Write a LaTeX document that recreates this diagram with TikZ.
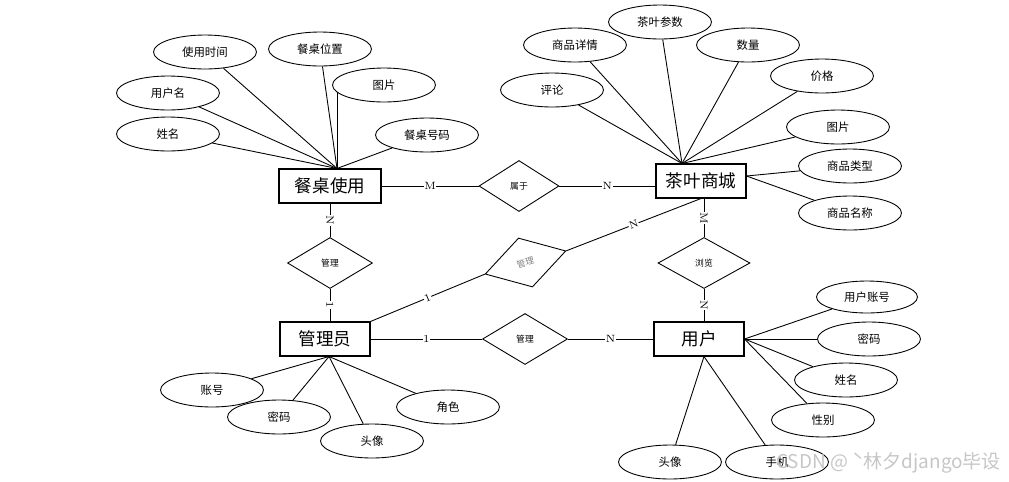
\documentclass[tikz,border=0pt]{standalone}
\usepackage{fontspec}
\newfontfamily\cjk{Noto Sans CJK SC}
\usepackage{tikz}
\usetikzlibrary{shapes.geometric, positioning, calc}

\tikzset{
  entity/.style={draw, line width=0.6pt, minimum width=1.8cm, minimum height=0.68cm, inner sep=0pt, font=\cjk\fontsize{10}{10}\selectfont},
  attr/.style={draw, ellipse, line width=0.5pt, minimum width=2.06cm, minimum height=0.68cm, inner sep=0pt, font=\cjk\fontsize{6.5}{6.5}\selectfont},
  rel/.style={draw, diamond, line width=0.5pt, minimum width=1.7cm, minimum height=1.02cm, inner sep=0pt, font=\cjk\fontsize{5}{5}\selectfont},
  card/.style={fill=white, inner sep=0.3pt, font=\fontsize{6}{6}\selectfont},
  link/.style={line width=0.5pt},
}

\begin{document}
\begin{tikzpicture}[x=0.02cm, y=-0.02cm]
    \useasboundingbox (0,0) rectangle (1009,481);

    % Entities
    \node[entity, minimum width=2.04cm] (table) at (330,186) {餐桌使用};
    \node[entity] (tea) at (701,181) {茶叶商城};
    \node[entity] (admin) at (325,339) {管理员};
    \node[entity] (user) at (699,339) {用户};

    % Relations
    \node[rel, minimum width=1.6cm] (belong) at (519,186) {属于};
    \node[rel] (mgrTable) at (330,263) {管理};
    \node[rel, rotate=16, text=gray, minimum width=1.68cm] (mgrTea) at (525.5,262.5) {管理};
    \node[rel, minimum width=1.84cm] (browse) at (704,263) {浏览};
    \node[rel] (mgrUser) at (525,339) {管理};

    % Table attributes
    \node[attr] (tUseTime) at (205,52) {使用时间};
    \node[attr] (tSeat) at (320,49) {餐桌位置};
    \node[attr] (tPic) at (384,85) {图片};
    \node[attr] (tUser) at (168,93) {用户名};
    \node[attr] (tName) at (168,134) {姓名};
    \node[attr] (tNo) at (427,135) {餐桌号码};

    % Tea shop attributes
    \node[attr] (gParam) at (660,22) {茶叶参数};
    \node[attr] (gDetail) at (575,45) {商品详情};
    \node[attr] (gCount) at (748,45) {数量};
    \node[attr] (gComment) at (552,90) {评论};
    \node[attr] (gPrice) at (822,76) {价格};
    \node[attr] (gPic) at (838,127) {图片};
    \node[attr] (gType) at (850,166) {商品类型};
    \node[attr] (gName) at (850,213) {商品名称};

    % Admin attributes
    \node[attr] (aAccount) at (212,390) {账号};
    \node[attr] (aPwd) at (279,417) {密码};
    \node[attr] (aAvatar) at (372,441) {头像};
    \node[attr] (aRole) at (448,407) {角色};

    % User attributes
    \node[attr, minimum width=2.02cm, minimum height=0.64cm] (uAccount) at (867,297) {用户账号};
    \node[attr] (uPwd) at (869,339) {密码};
    \node[attr] (uName) at (846,380) {姓名};
    \node[attr] (uSex) at (823,420) {性别};
    \node[attr] (uAvatar) at (670,462) {头像};
    \node[attr] (uPhone) at (777,462) {手机};

    % Attribute links
    \coordinate (tableTop) at ([xshift=0.14cm]table.north);
    \foreach \a in {tUseTime,tSeat,tUser,tName,tNo}
        \draw[link] (\a) -- (tableTop);
    \draw[link] (tPic.189) -- (tPic.189 |- table.north);

    \coordinate (teaTop) at ([xshift=-0.38cm]tea.north);
    \foreach \a in {gParam,gDetail,gCount,gComment,gPrice,gPic}
        \draw[link] (\a) -- (teaTop);
    \coordinate (teaRight) at ([yshift=0.1cm]tea.east);
    \draw[link] (gType) -- (teaRight);
    \draw[link] (gName) -- (teaRight);

    \coordinate (adminBot) at ([xshift=0.08cm]admin.south);
    \foreach \a in {aAccount,aPwd,aAvatar,aRole}
        \draw[link] (\a) -- (adminBot);

    \foreach \a in {uAccount,uPwd,uName,uSex}
        \draw[link] (\a) -- (user.east);
    \coordinate (userBot) at ([xshift=0.1cm]user.south);
    \draw[link] (uAvatar) -- (userBot);
    \draw[link] (uPhone) -- (userBot);

    % Relation links
    \draw[link] (table) -- node[card] {M} (belong);
    \draw[link] (belong.east) -- node[card] {N} (belong.east -| tea.west);
    \draw[link] (table) -- node[card, sloped] {N} (mgrTable);
    \draw[link] (mgrTable.south) -- node[card, sloped] {1} (mgrTable.south |- admin.north);
    \draw[link] (admin.north east) -- node[card, sloped] {1} (mgrTea.west);
    \draw[link] (mgrTea.east) -- node[card, sloped] {N} (tea.south);
    \draw[link] (browse.north |- tea.south) -- node[card, sloped] {M} (browse.north);
    \draw[link] (browse.south) -- node[card, sloped] {N} (browse.south |- user.north);
    \draw[link] (admin) -- node[card] {1} (mgrUser);
    \draw[link] (mgrUser) -- node[card] {N} (user);

    % Watermark
    \node[text=gray!45, anchor=west, inner sep=0pt, font=\cjk\fontsize{10.8}{10.8}\selectfont] (mark) at (776,463) {CSDN @ ˋ林夕django毕设};
\end{tikzpicture}
\end{document}
